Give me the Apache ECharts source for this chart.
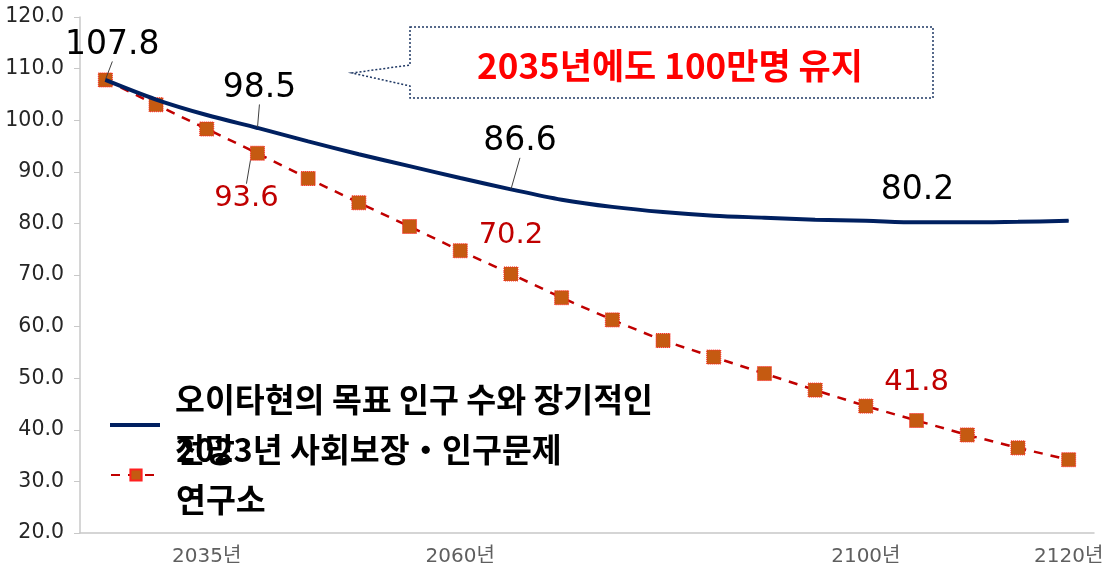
<!DOCTYPE html>
<html>
<head>
    <meta http-equiv="content-type" content="text/html;charset=utf-8" />
    <title>ECharts</title>
    <script src="https://cdn.jsdelivr.net/npm/echarts@6/dist/echarts.min.js"></script>
    <style>
        html, body { margin: 0; padding: 0; background: #fff; }
    </style>
</head>
<body>
    <div id="main" style="width: 1109px;height:573px;"></div>
    <script type="text/javascript">
        // 연도 (5년 간격)
        var years = ['2025','2030','2035','2040','2045','2050','2055','2060','2065','2070',
                     '2075','2080','2085','2090','2095','2100','2105','2110','2115','2120'];
        var shownYears = ['2035','2060','2100','2120'];
        var yTicks = [20, 30, 40, 50, 60, 70, 80, 90, 100, 110, 120];

        var targetName = '오이타현의 목표 인구 수와 장기적인\n전망';
        var ipssName = '2023년 사회보장・인구문제\n연구소';

        // 오이타현 목표 인구 (만명)
        var targetValues = [107.8, 104.0, 101.0, 98.5, 95.9, 93.4, 91.1, 88.8, 86.6, 84.6,
                            83.2, 82.2, 81.5, 81.1, 80.7, 80.5, 80.2, 80.2, 80.3, 80.5];
        // 사회보장・인구문제연구소 추계 (만명)
        var ipssValues = [107.8, 103.0, 98.3, 93.6, 88.7, 84.0, 79.4, 74.7, 70.2, 65.6,
                          61.3, 57.3, 54.1, 50.9, 47.7, 44.6, 41.8, 39.0, 36.5, 34.2];

        var targetLabelIdx = [0, 3, 8, 16];
        var ipssLabelIdx = [3, 8, 16];

        var numFont = "'DejaVu Sans', 'Noto Sans CJK KR', sans-serif";
        var krFont = "'Noto Sans CJK KR', sans-serif";

        // 라벨 위치 조정 (series_index) -> dx, dy
        var labelShift = {
            '0_0': [7, -13], '0_3': [2, -18], '0_8': [9, -26], '0_16': [1, -10],
            '1_3': [-11, 18], '1_8': [0, -11], '1_16': [0, -11]
        };
        var guideLines = ['0_0', '0_3', '0_8', '1_3'];

        function buildData(sIdx, values, idxList, posFn) {
            return values.map(function (v, i) {
                if (idxList.indexOf(i) < 0) return v;
                return {
                    value: v,
                    label: { show: true, position: posFn(i) },
                    labelLine: { show: guideLines.indexOf(sIdx + '_' + i) >= 0 }
                };
            });
        }

        var legendText = { fontFamily: krFont, fontSize: 32.5, fontWeight: 'bold', color: '#000', lineHeight: 50, padding: [0, 0, 0, 10] };

        var myChart = echarts.init(document.getElementById('main'));
        var option = {
            animation: false,
            backgroundColor: '#fff',
            grid: { left: 80, right: 15, top: 17, bottom: 40 },
            legend: [{
                data: [{ name: targetName, icon: 'rect' }],
                left: 110, top: 375, padding: 0,
                itemWidth: 50, itemHeight: 4,
                textStyle: legendText
            }, {
                data: [ipssName],
                left: 110, top: 425, padding: 0,
                itemWidth: 50, itemHeight: 14,
                textStyle: legendText
            }],
            xAxis: {
                type: 'category',
                data: years,
                boundaryGap: true,
                axisLine: { lineStyle: { color: '#c8c8c8', width: 1.5 } },
                axisTick: { interval: 0, length: 6, lineStyle: { color: '#c8c8c8' } },
                axisLabel: {
                    interval: function (i, v) { return shownYears.indexOf(v) >= 0; },
                    formatter: function (v) { return v + '년'; },
                    color: '#5f5f5f', fontSize: 20, fontFamily: numFont, margin: 14
                },
                splitLine: { show: false }
            },
            yAxis: {
                type: 'value',
                min: yTicks[0], max: yTicks[yTicks.length - 1], interval: 10,
                axisLine: { show: true, lineStyle: { color: '#c8c8c8', width: 1.5 } },
                axisTick: { show: true, length: 6, lineStyle: { color: '#c8c8c8' } },
                axisLabel: {
                    formatter: function (v) { return v.toFixed(1); },
                    color: '#262626', fontSize: 20.5, fontFamily: numFont, margin: 16
                },
                splitLine: { show: false }
            },
            series: [{
                name: targetName,
                type: 'line',
                smooth: 0.3,
                symbol: 'circle',
                symbolSize: 1,
                itemStyle: { color: '#002060' },
                lineStyle: { color: '#002060', width: 4 },
                label: { show: false, color: '#000', fontSize: 33, fontFamily: numFont },
                labelLine: { show: false, lineStyle: { color: '#404040', width: 1 } },
                data: buildData(0, targetValues, targetLabelIdx, function () { return 'top'; }),
                z: 3
            }, {
                name: ipssName,
                type: 'line',
                symbol: 'rect',
                symbolSize: 14,
                itemStyle: { color: '#C55A11', borderColor: '#FF2020', borderWidth: 1, borderType: 'dotted' },
                lineStyle: { color: '#C00000', width: 2.5, type: [9, 8] },
                label: { show: false, color: '#C00000', fontSize: 29, fontFamily: numFont },
                labelLine: { show: false, lineStyle: { color: '#404040', width: 1 } },
                data: buildData(1, ipssValues, ipssLabelIdx, function (i) { return i === 3 ? 'bottom' : 'top'; }),
                z: 2
            }],
            labelLayout: function (p) {
                var s = labelShift[p.seriesIndex + '_' + p.dataIndex];
                if (!s) return {};
                return { dx: s[0], dy: s[1] };
            },
            graphic: [{
                type: 'polygon',
                shape: { points: [[410, 27], [933, 27], [933, 98], [410, 98], [410, 86], [352, 73], [410, 65]] },
                style: { fill: '#fff', stroke: '#1F3864', lineWidth: 1.5, lineDash: [2, 2] },
                z: 10
            }, {
                type: 'text',
                x: 670, y: 66,
                style: {
                    text: '2035년에도 100만명 유지',
                    fill: '#FF0000',
                    font: 'bold 35px ' + krFont,
                    align: 'center', verticalAlign: 'middle'
                },
                z: 11
            }]
        };
        myChart.setOption(option);
    </script>
</body>
</html>
